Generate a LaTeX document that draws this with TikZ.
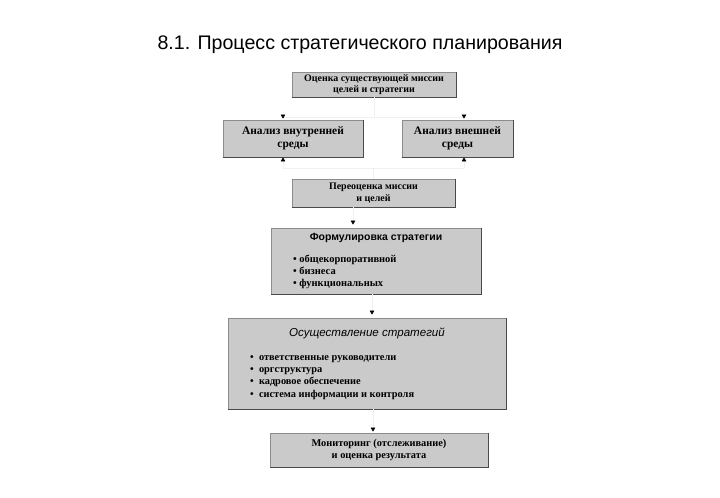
\documentclass[tikz,border=0pt]{standalone}
\usepackage{fontspec}
\setmainfont{Liberation Serif}
\setsansfont{Liberation Sans}
\usetikzlibrary{arrows.meta}
\definecolor{boxfill}{HTML}{CACACA}
\definecolor{boxline}{HTML}{8C8C8C}
\definecolor{boxshadow}{HTML}{4A4A4A}
\definecolor{faint}{HTML}{F0F0F0}
\begin{document}
\begin{tikzpicture}[x=1bp,y=-1bp,
  box/.style={draw=boxline, fill=boxfill, line width=0.8bp, rectangle, inner sep=0pt, align=center,
    font=\bfseries\fontsize{10}{11.5}\selectfont},
  shade/.style={draw=boxshadow, line width=1.2bp},
  conn/.style={draw=faint, line width=0.6bp},
  arr/.style={conn, -{Triangle[length=4bp,width=4.5bp,color=black]}},
  txt/.style={inner sep=0pt, align=left},
]
\useasboundingbox (0,0) rectangle (720,498);
\node[inner sep=0pt, font=\sffamily\fontsize{19.7}{22}\selectfont] (title) at (360,45) {8.1. Процесс стратегического планирования};

\node[box, minimum width=164bp, minimum height=25bp] (b1) at (374,84.5) {Оценка существующей миссии\\целей и стратегии};
\node[box, minimum width=140bp, minimum height=37bp, font=\bfseries\fontsize{11.5}{13}\selectfont] (b2) at (293,138.5) {Анализ внутренней\\среды};
\node[box, minimum width=111bp, minimum height=37bp, font=\bfseries\fontsize{11.5}{13}\selectfont] (b3) at (457.5,138.5) {Анализ внешней\\среды};
\node[box, minimum width=163bp, minimum height=28bp] (b4) at (373.5,193) {Переоценка миссии\\и целей};
\node[box, minimum width=210bp, minimum height=66bp] (b5) at (376,261) {};
\node[box, minimum width=278bp, minimum height=91bp] (b6) at (367,363.5) {};
\node[box, minimum width=218bp, minimum height=34bp, font=\bfseries\fontsize{10.4}{12}\selectfont] (b7) at (379,450) {Мониторинг (отслеживание)\\и оценка результата};

\foreach \b in {b1,b2,b3,b4,b5,b6,b7}
  \draw[shade] (\b.north east) -- (\b.south east) -- (\b.south west);

\node[txt, font=\sffamily\bfseries\fontsize{10.5}{12}\selectfont] (b5t) at (376,238) {Формулировка стратегии};
\node[txt, anchor=north west, font=\bfseries\fontsize{10.5}{12}\selectfont] (b5l) at (293,255)
  {\textbullet\ общекорпоративной\\\textbullet\ бизнеса\\\textbullet\ функциональных};

\node[txt, font=\sffamily\itshape\fontsize{11.6}{14}\selectfont] (b6t) at (367,333) {Осуществление стратегий};
\node[txt, anchor=north west, font=\bfseries\fontsize{10.4}{12.5}\selectfont] (b6l) at (250,355)
  {\textbullet\ \ ответственные руководители\\\textbullet\ \ оргструктура\\\textbullet\ \ кадровое обеспечение\\\textbullet\ \ система информации и контроля};

% connectors
\coordinate (s1) at (374,117);
\coordinate (sl) at (283,117);
\coordinate (sr) at (464,117);
\coordinate (ul) at (283,168);
\coordinate (ur) at (464,168);
\draw[conn] (b1.south) -- (s1);
\draw[conn] (sl) -- (sr);
\draw[arr, shorten >=1bp] (sl) -- (sl |- b2.north);
\draw[arr, shorten >=1bp] (sr) -- (sr |- b3.north);
\draw[conn] (ul) -- (ur);
\draw[conn] (b4.north) -- (b4.north |- ul);
\draw[arr] (ul) -- (ul |- b2.south);
\draw[arr] (ur) -- (ur |- b3.south);
\draw[arr, shorten >=3bp] (b4.south -| 353,0) -- (b5.north -| 353,0);
\draw[arr, shorten >=3bp] (b5.south -| 372,0) -- (b6.north -| 372,0);
\draw[arr, shorten >=1bp] (b6.south -| 373,0) -- (b7.north -| 373,0);
\end{tikzpicture}
\end{document}
